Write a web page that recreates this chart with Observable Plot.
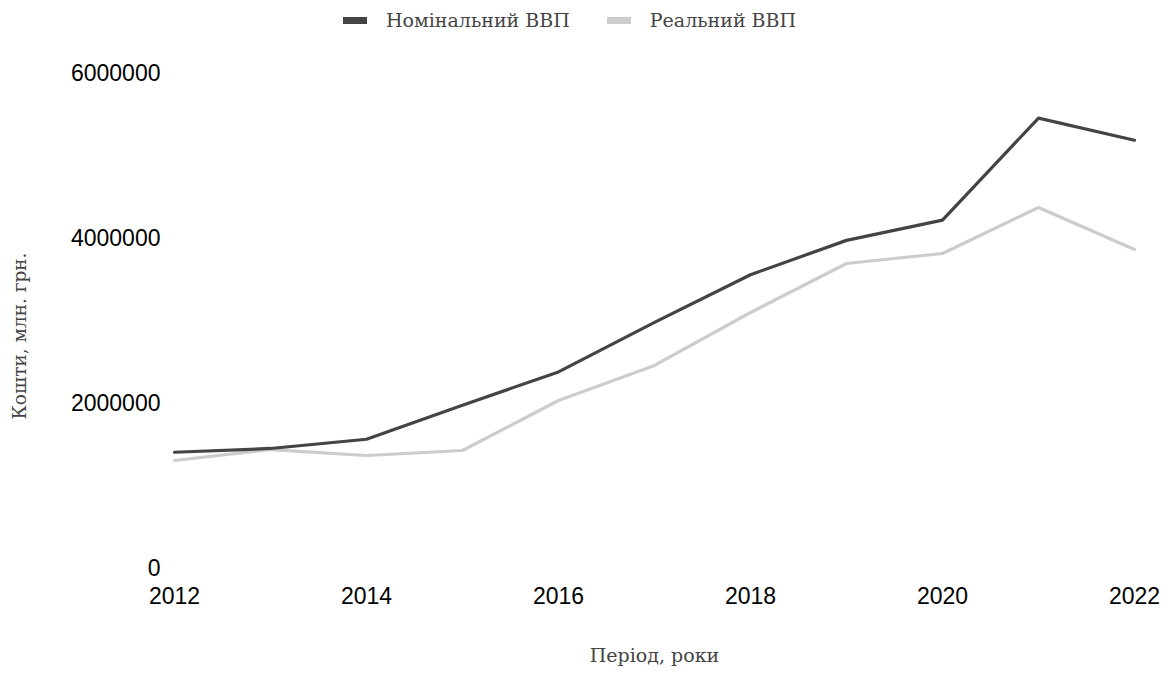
<!DOCTYPE html>
<html><head><meta charset="utf-8">
<script src="https://cdn.jsdelivr.net/npm/d3@7"></script>
<script src="https://cdn.jsdelivr.net/npm/@observablehq/plot@0.6"></script>
<style>
body{margin:0;background:#fff;}
#wrap{position:relative;width:1172px;height:675px;}
#legend{position:absolute;top:9px;left:343px;height:22px;display:flex;gap:37px;font-family:"DejaVu Serif",serif;font-size:19px;line-height:22px;color:#444;}
#legend .item{display:flex;align-items:center;}
#legend .sw{width:24px;height:7px;margin-right:19px;display:inline-block;}
.ttl{font-family:"DejaVu Serif",serif;}
</style></head>
<body><div id="wrap"><div id="legend"></div><div id="chart"></div></div>
<script>
const years = [2012,2013,2014,2015,2016,2017,2018,2019,2020,2021,2022];
const nominal = [1408889,1454931,1566728,1979458,2383182,2982920,3560596,3977198,4222026,5459574,5191028];
const real = [1309000,1442000,1370000,1430000,2036000,2461000,3103000,3697000,3818000,4376000,3867000];
const seriesNames = ["Номінальний ВВП","Реальний ВВП"];
const seriesColors = ["#444444","#cccccc"];
const xTicks = [2012,2014,2016,2018,2020,2022];
const yTicks = [0,2000000,4000000,6000000];
const xTitle = "Період, роки";
const yTitle = "Кошти, млн. грн.";

const rows = [];
years.forEach((y,i)=>{
  rows.push({year:y, value:nominal[i], series:seriesNames[0]});
  rows.push({year:y, value:real[i], series:seriesNames[1]});
});

const leg = document.getElementById("legend");
seriesNames.forEach((n,i)=>{
  const it = document.createElement("span"); it.className="item";
  const sw = document.createElement("span"); sw.className="sw"; sw.style.background=seriesColors[i];
  it.appendChild(sw); it.appendChild(document.createTextNode(n)); leg.appendChild(it);
});

const chart = Plot.plot({
  width:1172, height:675,
  marginLeft:174, marginRight:38, marginTop:73, marginBottom:107,
  style:{fontFamily:"Liberation Sans, Arial, sans-serif", fontSize:"23px", color:"#000", background:"#fff"},
  x:{domain:[2012,2022]},
  y:{domain:[0,6000000]},
  color:{domain:seriesNames, range:seriesColors},
  marks:[
    Plot.axisX({ticks:xTicks, tickSize:0, tickPadding:19, tickFormat:d=>String(d), label:null, fontSize:23}),
    Plot.axisY({ticks:yTicks, tickSize:0, tickPadding:14, tickFormat:d=>String(d), label:null, fontSize:23}),
    Plot.text([yTitle], {text:d=>d, frameAnchor:"left", textAnchor:"middle", rotate:-90, dx:-154, dy:15, fontSize:18.5, fill:"#444", className:"ttl"}),
    Plot.text([xTitle], {text:d=>d, frameAnchor:"bottom", dy:93, fontSize:19, fill:"#444", className:"ttl"}),
    Plot.line(rows, {x:"year", y:"value", stroke:"series", z:"series", strokeWidth:3.2, sort:{channel:"stroke", order:"descending"}})
  ]
});
document.getElementById("chart").appendChild(chart);
</script></body></html>
